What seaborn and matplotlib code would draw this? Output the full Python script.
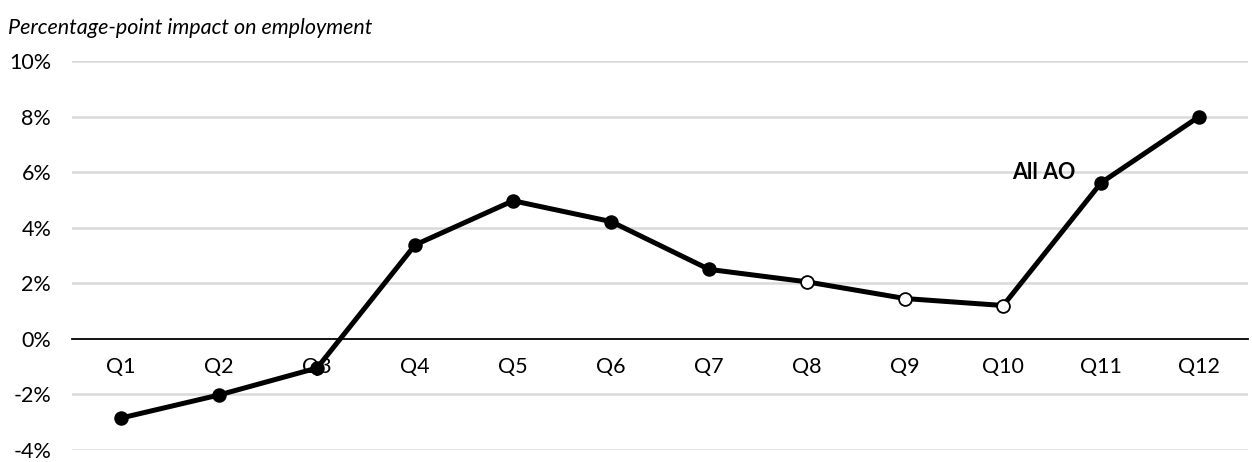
import pandas as pd
import seaborn as sns
import matplotlib.pyplot as plt
from matplotlib.ticker import FixedLocator

# data
quarters = ["Q1", "Q2", "Q3", "Q4", "Q5", "Q6", "Q7", "Q8", "Q9", "Q10", "Q11", "Q12"]
impact = [-2.85, -2.02, -1.05, 3.38, 4.97, 4.22, 2.5, 2.05, 1.45, 1.2, 5.62, 8.0]
hollow = [False] * 7 + [True] * 3 + [False] * 2
y_ticks = [-4, -2, 0, 2, 4, 6, 8, 10]

df = pd.DataFrame({"quarter": quarters, "impact": impact, "hollow": hollow})
df["pos"] = range(len(df))

sns.set_style("white")
plt.rcParams["font.family"] = ["Lato", "DejaVu Sans"]
plt.rcParams["text.color"] = "black"
plt.rcParams["xtick.color"] = "black"
plt.rcParams["ytick.color"] = "black"

fig = plt.figure(figsize=(12.52, 4.62), dpi=100)
ax = fig.add_axes([0.0575, 0.026, 0.9395, 0.842])

# gridlines
for v in y_ticks:
    if v != 0:
        ax.axhline(v, color="#d9d9d9", lw=1.8, zorder=0)

sns.lineplot(x="pos", y="impact", data=df, color="black", lw=3.6, sort=False, ax=ax, zorder=3)
sns.scatterplot(x="pos", y="impact", data=df[~df["hollow"]], color="black", s=85,
                edgecolor="black", linewidth=1.2, ax=ax, zorder=4)
sns.scatterplot(x="pos", y="impact", data=df[df["hollow"]], color="white", s=85,
                edgecolor="black", linewidth=1.3, ax=ax, zorder=4)

ax.set_xlim(-0.5, len(quarters) - 0.5)
ax.set_ylim(-4, 10)

# x axis sits on zero, ticks between categories
for s in ["left", "right", "top"]:
    ax.spines[s].set_visible(False)
ax.spines["bottom"].set_position(("data", 0))
ax.spines["bottom"].set_color("black")
ax.spines["bottom"].set_linewidth(1.3)
ax.spines["bottom"].set_zorder(2)

ax.set_xticks(df["pos"])
ax.set_xticklabels(quarters, fontsize=15.5)
ax.xaxis.set_minor_locator(FixedLocator([i - 0.5 for i in range(len(quarters) + 1)]))
ax.tick_params(axis="x", which="major", length=0, pad=13, labelcolor="black")
ax.tick_params(axis="x", which="minor", length=7, width=1.3, color="black", direction="out")

ax.set_yticks(y_ticks)
ax.set_yticklabels([f"{v}%" for v in y_ticks], fontsize=15.5)
ax.tick_params(axis="y", length=0, pad=15, labelcolor="black")

ax.set_xlabel("")
ax.set_ylabel("")

ax.text(9.09, 6.0, "All AO", fontsize=15.5, fontweight="bold", color="black",
        ha="left", va="center", zorder=5)
fig.text(0.0065, 0.94, "Percentage-point impact on employment", fontsize=15.5,
         style="italic", color="black", ha="left", va="center")

fig.savefig("out.png", dpi=100)
